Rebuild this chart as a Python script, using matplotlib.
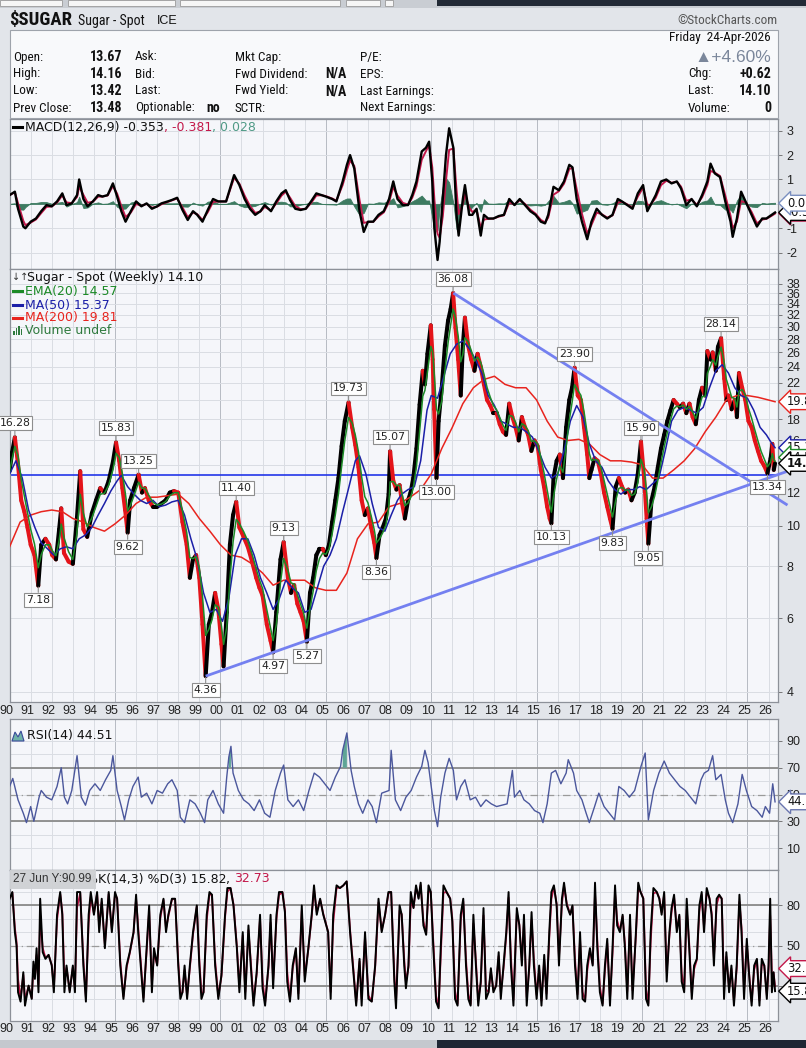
import numpy as np
import pandas as pd
import matplotlib
matplotlib.use('Agg')
import matplotlib.pyplot as plt
from matplotlib.collections import LineCollection
from matplotlib.patches import Rectangle, Polygon
from matplotlib.ticker import NullLocator, FixedLocator, FixedFormatter
from matplotlib.text import Annotation
from matplotlib import font_manager as fm
import matplotlib.transforms as mtrans

# ---------------- DATA ----------------
price_pts = [
    (1990.00, 13.5), (1990.12, 15.0), (1990.25, 16.28), (1990.40, 14.0), (1990.55, 11.5), (1990.70, 10.8),
    (1990.85, 9.9), (1991.00, 9.0), (1991.18, 8.5), (1991.36, 7.18), (1991.50, 9.0), (1991.70, 9.3),
    (1991.88, 9.0), (1992.02, 8.5), (1992.20, 8.3), (1992.35, 9.8), (1992.45, 11.0), (1992.58, 8.6),
    (1992.80, 8.2), (1993.00, 8.1), (1993.18, 10.2), (1993.35, 13.5), (1993.50, 9.8), (1993.68, 9.4),
    (1993.90, 10.7), (1994.10, 11.5), (1994.30, 12.3), (1994.50, 12.0), (1994.70, 12.8), (1994.90, 14.2),
    (1995.05, 15.83), (1995.20, 14.3), (1995.35, 12.3), (1995.48, 10.9), (1995.60, 9.62), (1995.72, 11.5),
    (1995.90, 12.3), (1996.12, 13.25), (1996.28, 12.0), (1996.42, 12.3), (1996.60, 11.5), (1996.80, 11.1),
    (1997.00, 11.1), (1997.20, 11.3), (1997.40, 11.5), (1997.60, 12.0), (1997.80, 12.1), (1998.00, 12.0),
    (1998.20, 10.2), (1998.40, 9.0), (1998.55, 7.5), (1998.70, 8.3), (1998.85, 8.5), (1999.00, 7.5),
    (1999.15, 5.8), (1999.30, 4.36), (1999.45, 5.8), (1999.60, 6.2), (1999.75, 6.9), (1999.90, 6.3),
    (2000.05, 5.2), (2000.15, 4.6), (2000.30, 6.2), (2000.45, 9.0), (2000.60, 10.6), (2000.75, 11.40),
    (2000.90, 9.9), (2001.10, 9.4), (2001.30, 8.9), (2001.50, 8.2), (2001.70, 7.5), (2001.85, 7.1),
    (2002.00, 6.8), (2002.20, 5.8), (2002.38, 5.3), (2002.50, 4.97), (2002.65, 6.2), (2002.85, 8.3),
    (2003.00, 9.13), (2003.20, 7.5), (2003.35, 6.9), (2003.50, 7.2), (2003.65, 6.5), (2003.80, 6.2),
    (2003.95, 5.9), (2004.10, 5.27), (2004.25, 6.9), (2004.40, 7.5), (2004.55, 8.5), (2004.70, 8.8),
    (2004.85, 8.8), (2005.00, 8.5), (2005.15, 9.0), (2005.30, 10.2), (2005.45, 11.5), (2005.60, 13.0),
    (2005.75, 15.5), (2005.90, 17.8), (2006.08, 19.73), (2006.25, 17.2), (2006.40, 15.6), (2006.55, 13.8),
    (2006.70, 11.5), (2006.85, 10.6), (2007.00, 11.0), (2007.15, 9.9), (2007.30, 9.1), (2007.40, 8.36),
    (2007.55, 9.5), (2007.70, 9.9), (2007.85, 10.4), (2007.98, 11.9), (2008.05, 15.07), (2008.20, 12.8),
    (2008.35, 12.2), (2008.50, 12.5), (2008.62, 11.3), (2008.75, 10.4), (2008.90, 11.5), (2009.02, 12.0),
    (2009.15, 13.0), (2009.30, 15.3), (2009.45, 19.5), (2009.60, 23.5), (2009.70, 21.8), (2009.82, 25.8),
    (2009.98, 30.2), (2010.07, 25.0), (2010.14, 19.0), (2010.25, 13.00), (2010.35, 17.8), (2010.50, 21.4),
    (2010.65, 27.0), (2010.80, 31.0), (2010.92, 33.0), (2011.04, 36.08), (2011.15, 29.8), (2011.28, 25.0),
    (2011.40, 20.5), (2011.50, 27.0), (2011.60, 31.5), (2011.75, 27.0), (2011.90, 25.0), (2012.05, 23.5),
    (2012.20, 25.8), (2012.35, 24.0), (2012.50, 21.8), (2012.65, 20.0), (2012.80, 19.4), (2012.95, 18.6),
    (2013.10, 18.6), (2013.25, 17.5), (2013.40, 16.8), (2013.55, 16.5), (2013.70, 19.6), (2013.85, 18.2),
    (2014.00, 17.2), (2014.15, 16.0), (2014.30, 18.2), (2014.45, 17.2), (2014.60, 16.5), (2014.75, 15.1),
    (2014.90, 16.0), (2015.05, 15.5), (2015.20, 13.6), (2015.35, 12.4), (2015.50, 11.1), (2015.62, 10.4),
    (2015.70, 10.13), (2015.80, 13.0), (2015.95, 14.3), (2016.10, 14.8), (2016.25, 13.0), (2016.40, 17.2),
    (2016.55, 20.0), (2016.68, 21.4), (2016.80, 23.90), (2016.95, 20.5), (2017.10, 20.0), (2017.25, 17.2),
    (2017.40, 14.8), (2017.50, 13.0), (2017.60, 13.6), (2017.75, 14.5), (2017.90, 14.3), (2018.05, 13.3),
    (2018.20, 12.0), (2018.35, 11.1), (2018.48, 10.4), (2018.60, 9.83), (2018.75, 12.4), (2018.90, 13.0),
    (2019.05, 12.4), (2019.20, 12.0), (2019.35, 12.2), (2019.50, 11.5), (2019.65, 12.0), (2019.80, 13.3),
    (2019.95, 15.90), (2020.10, 13.0), (2020.22, 10.4), (2020.30, 9.05), (2020.45, 11.5), (2020.60, 12.4),
    (2020.75, 13.8), (2020.90, 15.3), (2021.05, 16.5), (2021.20, 17.8), (2021.35, 18.9), (2021.50, 20.0),
    (2021.65, 19.6), (2021.80, 19.2), (2021.95, 19.6), (2022.10, 18.6), (2022.25, 19.6), (2022.40, 18.2),
    (2022.55, 17.5), (2022.70, 20.0), (2022.85, 21.4), (2023.00, 20.5), (2023.10, 26.2), (2023.25, 25.0),
    (2023.35, 26.0), (2023.50, 23.5), (2023.60, 26.8), (2023.75, 28.14), (2023.90, 22.5), (2024.00, 20.0),
    (2024.10, 20.5), (2024.25, 19.0), (2024.40, 20.0), (2024.50, 18.2), (2024.60, 23.2), (2024.75, 21.4),
    (2024.90, 20.0), (2025.05, 17.8), (2025.20, 17.2), (2025.35, 16.0), (2025.50, 15.1), (2025.65, 14.3),
    (2025.80, 13.9), (2025.95, 13.34), (2026.10, 14.5), (2026.18, 15.7), (2026.25, 13.6), (2026.31, 14.10),
]

ma50_pts = [
    (1990.0, 13.3), (1990.3, 14.3), (1990.6, 13.0), (1990.9, 10.9), (1991.2, 9.9), (1991.5, 9.1), (1991.8, 8.8),
    (1992.1, 8.5), (1992.4, 8.8), (1992.7, 8.9), (1993.0, 8.8), (1993.3, 9.3), (1993.6, 9.5), (1993.9, 9.9),
    (1994.2, 10.6), (1994.5, 11.3), (1994.8, 12.1), (1995.1, 12.8), (1995.3, 13.2), (1995.6, 12.4), (1995.9, 11.9),
    (1996.2, 11.5), (1996.5, 11.3), (1996.8, 11.5), (1997.1, 11.1), (1997.4, 11.2), (1997.7, 11.4), (1998.0, 11.5),
    (1998.3, 10.6), (1998.6, 9.3), (1998.9, 8.3), (1999.2, 6.9), (1999.5, 6.2), (1999.8, 6.3), (2000.1, 5.9),
    (2000.4, 6.7), (2000.7, 8.5), (2001.0, 9.3), (2001.3, 9.3), (2001.6, 8.5), (2001.9, 7.5), (2002.2, 6.9),
    (2002.5, 6.3), (2002.8, 6.7), (2003.1, 7.4), (2003.4, 7.1), (2003.7, 6.9), (2004.0, 6.2), (2004.3, 6.3),
    (2004.6, 7.1), (2004.9, 8.0), (2005.2, 8.5), (2005.5, 9.3), (2005.8, 10.8), (2006.1, 12.4), (2006.4, 14.3),
    (2006.6, 14.7), (2006.9, 13.3), (2007.2, 11.3), (2007.5, 9.9), (2007.8, 9.7), (2008.1, 10.6), (2008.4, 11.5),
    (2008.6, 11.9), (2008.9, 12.2), (2009.2, 12.4), (2009.5, 14.3), (2009.8, 18.9), (2010.0, 20.5), (2010.3, 20.2),
    (2010.6, 22.8), (2010.9, 25.8), (2011.2, 27.2), (2011.5, 27.7), (2011.8, 26.6), (2012.1, 25.0), (2012.4, 23.2),
    (2012.7, 20.5), (2013.0, 19.4), (2013.3, 17.8), (2013.6, 17.5), (2013.9, 17.2), (2014.2, 17.2), (2014.5, 16.8),
    (2014.8, 16.3), (2015.1, 15.1), (2015.4, 13.8), (2015.7, 13.0), (2016.0, 13.3), (2016.3, 15.1), (2016.6, 17.8),
    (2016.9, 19.4), (2017.2, 18.2), (2017.5, 15.7), (2017.8, 14.3), (2018.1, 13.8), (2018.4, 12.8), (2018.7, 12.2),
    (2019.0, 11.9), (2019.3, 12.2), (2019.6, 12.2), (2019.9, 12.4), (2020.2, 12.2), (2020.5, 12.6), (2020.8, 13.0),
    (2021.1, 15.1), (2021.4, 17.8), (2021.7, 18.9), (2022.0, 19.2), (2022.3, 18.9), (2022.6, 18.6), (2022.9, 19.2),
    (2023.2, 21.4), (2023.5, 23.5), (2023.8, 24.3), (2024.1, 23.2), (2024.4, 21.4), (2024.7, 20.5), (2025.0, 20.2),
    (2025.3, 18.9), (2025.6, 17.2), (2025.9, 16.5), (2026.1, 15.9), (2026.31, 15.37),
]

ma200_pts = [
    (1990.0, 8.9), (1990.5, 10.2), (1991.0, 10.6), (1991.5, 10.8), (1992.0, 10.9), (1992.5, 10.8), (1993.0, 10.4),
    (1993.5, 10.2), (1994.0, 9.9), (1994.5, 9.7), (1995.0, 10.1), (1995.5, 10.6), (1996.0, 11.3), (1996.5, 11.7),
    (1997.0, 11.7), (1997.5, 11.8), (1998.0, 11.9), (1998.5, 11.3), (1999.0, 10.4), (1999.5, 9.7), (2000.0, 9.0),
    (2000.5, 8.5), (2001.0, 8.4), (2001.5, 8.1), (2002.0, 7.7), (2002.5, 7.2), (2003.0, 7.4), (2003.5, 7.4),
    (2004.0, 7.4), (2004.5, 7.1), (2005.0, 7.0), (2005.5, 7.0), (2006.0, 7.7), (2006.5, 9.3), (2007.0, 10.1),
    (2007.5, 10.2), (2008.0, 11.1), (2008.5, 11.3), (2009.0, 11.7), (2009.5, 12.2), (2010.0, 13.3), (2010.5, 15.3),
    (2011.0, 17.2), (2011.5, 19.6), (2012.0, 21.4), (2012.5, 22.4), (2013.0, 22.8), (2013.5, 21.8), (2014.0, 21.4),
    (2014.5, 21.4), (2015.0, 20.0), (2015.5, 17.8), (2016.0, 16.3), (2016.5, 16.0), (2017.0, 16.1), (2017.5, 15.7),
    (2018.0, 14.8), (2018.5, 14.3), (2019.0, 14.3), (2019.5, 14.2), (2020.0, 14.0), (2020.5, 13.0), (2021.0, 13.0),
    (2021.5, 13.6), (2022.0, 14.3), (2022.5, 15.3), (2023.0, 16.8), (2023.5, 18.2), (2024.0, 20.0), (2024.5, 20.5),
    (2025.0, 20.5), (2025.5, 20.3), (2026.0, 20.0), (2026.31, 19.81),
]

macd_pts = [
    (1990.00, 0.36), (1990.25, 0.50), (1990.40, -0.20), (1990.65, -0.93), (1990.75, -1.00), (1991.00, -0.73),
    (1991.25, -0.60), (1991.50, -0.30), (1991.75, -0.05), (1992.00, -0.10), (1992.25, 0.10), (1992.50, 0.43),
    (1992.70, -0.05), (1992.95, 0.02), (1993.20, 0.36), (1993.30, 1.00), (1993.50, 0.20), (1993.70, -0.10),
    (1993.95, 0.10), (1994.20, 0.36), (1994.40, 0.30), (1994.65, 0.36), (1994.90, 0.84), (1995.10, 0.30),
    (1995.30, -0.30), (1995.50, -0.73), (1995.75, -0.30), (1996.00, 0.10), (1996.25, -0.10), (1996.50, 0.02),
    (1996.75, -0.20), (1997.00, -0.10), (1997.20, 0.02), (1997.50, 0.10), (1997.70, 0.16), (1997.95, 0.25),
    (1998.20, -0.25), (1998.45, -0.66), (1998.70, -0.30), (1998.90, -0.45), (1999.15, -0.73), (1999.40, -0.25),
    (1999.65, 0.20), (1999.90, 0.10), (2000.27, 0.10), (2000.65, 1.18), (2000.90, 0.77), (2001.15, 0.20),
    (2001.40, -0.20), (2001.65, -0.45), (2001.90, -0.30), (2002.10, -0.05), (2002.40, -0.30), (2002.65, 0.10),
    (2002.90, 0.43), (2003.10, 0.56), (2003.30, 0.16), (2003.55, -0.20), (2003.80, -0.25), (2004.05, -0.20),
    (2004.30, 0.10), (2004.55, 0.43), (2004.80, 0.36), (2005.00, 0.30), (2005.30, 0.20), (2005.50, 0.10),
    (2005.80, 0.92), (2006.00, 1.60), (2006.15, 2.00), (2006.35, 1.45), (2006.60, -0.30), (2006.80, -1.15),
    (2007.00, -0.73), (2007.25, -0.73), (2007.50, -0.45), (2007.75, -0.30), (2008.00, 0.20), (2008.20, 0.92),
    (2008.40, 0.20), (2008.65, -0.05), (2008.90, -0.05), (2009.10, 0.36), (2009.30, 0.92), (2009.55, 2.15),
    (2009.75, 2.30), (2009.90, 2.55), (2010.05, 0.92), (2010.15, -1.00), (2010.30, -2.30), (2010.40, -1.55),
    (2010.55, 0.20), (2010.70, 2.00), (2010.85, 3.10), (2011.05, 2.30), (2011.20, -0.45), (2011.30, -1.30),
    (2011.50, 0.20), (2011.60, 0.77), (2011.80, -0.45), (2011.95, -0.45), (2012.15, -0.20), (2012.35, -1.30),
    (2012.50, -0.45), (2012.70, -0.60), (2012.95, -0.60), (2013.20, -0.50), (2013.45, -0.45), (2013.70, 0.20),
    (2013.95, -0.05), (2014.20, 0.20), (2014.45, -0.05), (2014.70, -0.30), (2014.95, -0.45), (2015.20, -0.73),
    (2015.40, -0.80), (2015.55, -0.45), (2015.80, 0.70), (2016.05, 0.56), (2016.30, 0.92), (2016.55, 1.60),
    (2016.70, 1.50), (2016.90, 0.20), (2017.15, -0.73), (2017.40, -1.45), (2017.60, -0.73), (2017.85, -0.20),
    (2018.10, -0.45), (2018.35, -0.60), (2018.60, -0.45), (2018.85, 0.20), (2019.05, 0.10), (2019.30, -0.05),
    (2019.55, -0.20), (2019.80, 0.43), (2020.05, 0.77), (2020.25, -0.30), (2020.40, -0.05), (2020.65, 0.36),
    (2020.90, 0.92), (2021.15, 1.00), (2021.40, 0.84), (2021.65, 0.92), (2021.85, 0.63), (2022.10, -0.05),
    (2022.35, 0.20), (2022.60, -0.10), (2022.85, 0.36), (2023.10, 0.92), (2023.25, 1.65), (2023.45, 1.25),
    (2023.70, 1.10), (2023.95, 0.10), (2024.20, -0.73), (2024.30, -1.35), (2024.50, -0.60), (2024.70, 0.50),
    (2024.95, 0.02), (2025.20, -0.45), (2025.45, -0.93), (2025.70, -0.60), (2025.90, -0.60), (2026.15, -0.45),
    (2026.31, -0.353),
]

rsi_pts = [
    (1990.0, 56), (1990.15, 62), (1990.4, 46), (1990.65, 36), (1990.8, 29), (1991.0, 41), (1991.15, 30), (1991.4, 48),
    (1991.5, 53), (1991.75, 48), (1992.0, 46), (1992.25, 56), (1992.45, 70), (1992.6, 48), (1992.75, 43), (1992.95, 53),
    (1993.2, 79), (1993.4, 48), (1993.6, 42), (1993.8, 53), (1994.05, 58), (1994.3, 53), (1994.55, 61), (1994.8, 68),
    (1994.9, 79), (1995.1, 53), (1995.3, 41), (1995.45, 31), (1995.65, 46), (1995.85, 56), (1996.1, 63), (1996.25, 48),
    (1996.5, 51), (1996.75, 43), (1997.0, 53), (1997.25, 51), (1997.5, 58), (1997.7, 61), (1997.95, 53), (1998.1, 33),
    (1998.3, 29), (1998.55, 46), (1998.8, 43), (1999.05, 36), (1999.25, 29), (1999.4, 46), (1999.65, 53), (1999.9, 43),
    (2000.15, 36), (2000.3, 63), (2000.4, 78), (2000.5, 86), (2000.6, 66), (2000.85, 53), (2001.1, 46), (2001.35, 43),
    (2001.6, 38), (2001.85, 46), (2002.1, 36), (2002.35, 33), (2002.6, 53), (2002.85, 66), (2003.0, 72), (2003.2, 46),
    (2003.45, 41), (2003.7, 46), (2003.95, 38), (2004.2, 53), (2004.45, 66), (2004.7, 63), (2004.95, 58), (2005.2, 53),
    (2005.45, 63), (2005.7, 71), (2005.8, 83), (2006.0, 96), (2006.2, 68), (2006.35, 56), (2006.55, 43), (2006.75, 36),
    (2007.0, 46), (2007.2, 41), (2007.4, 29), (2007.65, 51), (2008.0, 53), (2008.1, 83), (2008.3, 46), (2008.55, 38),
    (2008.8, 48), (2009.05, 53), (2009.3, 63), (2009.55, 71), (2009.7, 83), (2009.85, 74), (2010.0, 56), (2010.15, 38),
    (2010.3, 26), (2010.45, 48), (2010.65, 66), (2010.85, 77), (2011.05, 68), (2011.2, 46), (2011.4, 56), (2011.6, 61),
    (2011.85, 46), (2012.1, 48), (2012.35, 41), (2012.6, 46), (2012.85, 43), (2013.1, 41), (2013.35, 42), (2013.6, 43),
    (2013.85, 68), (2013.95, 48), (2014.2, 53), (2014.4, 46), (2014.65, 43), (2014.9, 38), (2015.15, 36), (2015.3, 29),
    (2015.5, 43), (2015.7, 66), (2015.9, 68), (2016.15, 58), (2016.4, 66), (2016.5, 76), (2016.75, 66), (2016.9, 53),
    (2017.15, 46), (2017.35, 36), (2017.5, 29), (2017.75, 41), (2017.95, 51), (2018.2, 41), (2018.45, 36), (2018.7, 31),
    (2018.9, 56), (2019.15, 53), (2019.4, 48), (2019.65, 53), (2019.95, 71), (2020.15, 81), (2020.3, 31), (2020.55, 53),
    (2020.8, 66), (2021.05, 75), (2021.3, 66), (2021.55, 61), (2021.8, 56), (2022.05, 53), (2022.3, 48), (2022.55, 43),
    (2022.8, 61), (2022.95, 66), (2023.15, 68), (2023.35, 79), (2023.5, 61), (2023.75, 65), (2023.95, 46), (2024.1, 36),
    (2024.3, 29), (2024.55, 43), (2024.75, 65), (2024.95, 53), (2025.2, 41), (2025.45, 38), (2025.7, 33), (2025.85, 41),
    (2026.05, 36), (2026.2, 58), (2026.31, 44.51),
]

stoch_pts = [
    (1990.0, 85), (1990.13, 90), (1990.25, 60), (1990.33, 50), (1990.4, 15), (1990.52, 8), (1990.65, 30), (1990.73, 5),
    (1990.9, 20), (1991.05, 10), (1991.13, 38), (1991.2, 25), (1991.28, 48), (1991.37, 15), (1991.45, 85), (1991.57, 45),
    (1991.7, 40), (1991.85, 43), (1992.0, 35), (1992.1, 15), (1992.25, 73), (1992.4, 90), (1992.5, 73), (1992.6, 15),
    (1992.7, 35), (1992.85, 15), (1993.0, 35), (1993.1, 15), (1993.2, 90), (1993.35, 90), (1993.5, 35), (1993.62, 8),
    (1993.75, 73), (1993.85, 90), (1994.0, 73), (1994.15, 90), (1994.25, 60), (1994.37, 85), (1994.52, 48), (1994.7, 90),
    (1994.85, 60), (1995.0, 90), (1995.1, 85), (1995.25, 35), (1995.4, 10), (1995.55, 35), (1995.7, 45), (1995.88, 60),
    (1996.0, 88), (1996.1, 60), (1996.22, 35), (1996.35, 8), (1996.5, 48), (1996.62, 80), (1996.75, 15), (1996.85, 48),
    (1997.0, 35), (1997.15, 73), (1997.3, 85), (1997.42, 60), (1997.53, 73), (1997.7, 85), (1997.85, 85), (1998.0, 35),
    (1998.1, 10), (1998.2, 15), (1998.3, 35), (1998.42, 10), (1998.55, 35), (1998.7, 60), (1998.88, 80), (1999.0, 35),
    (1999.1, 10), (1999.2, 15), (1999.35, 73), (1999.48, 90), (1999.6, 88), (1999.75, 35), (1999.9, 10), (2000.05, 28),
    (2000.22, 73), (2000.33, 93), (2000.48, 93), (2000.62, 80), (2000.78, 48), (2000.9, 15), (2001.06, 60), (2001.18, 10),
    (2001.33, 65), (2001.44, 35), (2001.57, 5), (2001.72, 30), (2001.88, 73), (2002.0, 18), (2002.12, 5), (2002.28, 35),
    (2002.38, 73), (2002.5, 18), (2002.66, 73), (2002.78, 90), (2002.94, 90), (2003.06, 75), (2003.17, 23), (2003.3, 8),
    (2003.43, 35), (2003.58, 48), (2003.7, 10), (2003.86, 80), (2004.0, 23), (2004.17, 48), (2004.33, 73), (2004.44, 95),
    (2004.57, 73), (2004.73, 85), (2004.88, 73), (2005.11, 60), (2005.23, 10), (2005.35, 73), (2005.51, 95), (2005.67, 93),
    (2005.83, 95), (2005.99, 98), (2006.15, 60), (2006.31, 30), (2006.44, 5), (2006.6, 40), (2006.7, 5), (2006.86, 60),
    (2007.02, 10), (2007.18, 8), (2007.34, 35), (2007.5, 85), (2007.65, 60), (2007.81, 73), (2007.97, 90), (2008.1, 90),
    (2008.25, 23), (2008.33, 3), (2008.5, 80), (2008.6, 73), (2008.72, 35), (2008.8, 18), (2008.92, 35), (2009.03, 90),
    (2009.16, 78), (2009.28, 95), (2009.4, 85), (2009.5, 97), (2009.63, 65), (2009.76, 58), (2009.87, 95), (2009.98, 90),
    (2010.1, 48), (2010.23, 8), (2010.35, 3), (2010.45, 48), (2010.58, 95), (2010.73, 90), (2010.9, 85), (2011.0, 68),
    (2011.13, 10), (2011.25, 5), (2011.4, 73), (2011.52, 85), (2011.65, 35), (2011.76, 10), (2011.87, 5), (2012.0, 73),
    (2012.12, 35), (2012.23, 5), (2012.35, 23), (2012.48, 78), (2012.6, 10), (2012.72, 15), (2012.83, 33), (2012.95, 15),
    (2013.08, 20), (2013.2, 45), (2013.3, 10), (2013.43, 35), (2013.56, 60), (2013.67, 90), (2013.78, 35), (2013.9, 5),
    (2014.06, 78), (2014.18, 65), (2014.3, 35), (2014.4, 73), (2014.53, 5), (2014.65, 35), (2014.76, 75), (2014.87, 35),
    (2015.0, 10), (2015.12, 35), (2015.23, 5), (2015.36, 43), (2015.47, 10), (2015.6, 60), (2015.7, 90), (2015.82, 95),
    (2015.95, 80), (2016.06, 35), (2016.2, 85), (2016.3, 97), (2016.43, 80), (2016.59, 73), (2016.7, 80), (2016.82, 35),
    (2016.94, 10), (2017.06, 60), (2017.18, 10), (2017.3, 8), (2017.4, 35), (2017.53, 48), (2017.66, 35), (2017.77, 97),
    (2017.88, 48), (2018.0, 15), (2018.13, 5), (2018.24, 35), (2018.35, 55), (2018.48, 5), (2018.6, 48), (2018.72, 95),
    (2018.82, 65), (2018.95, 60), (2019.08, 73), (2019.19, 48), (2019.3, 10), (2019.43, 73), (2019.55, 10), (2019.71, 60),
    (2019.82, 97), (2019.93, 90), (2020.06, 85), (2020.19, 10), (2020.3, 5), (2020.41, 60), (2020.54, 93), (2020.7, 90),
    (2020.82, 85), (2020.93, 73), (2021.05, 90), (2021.17, 23), (2021.3, 60), (2021.4, 78), (2021.52, 88), (2021.65, 60),
    (2021.77, 73), (2021.88, 23), (2022.0, 15), (2022.12, 85), (2022.24, 48), (2022.36, 10), (2022.47, 35), (2022.6, 40),
    (2022.72, 80), (2022.83, 90), (2022.94, 60), (2023.07, 93), (2023.2, 85), (2023.3, 73), (2023.41, 35), (2023.54, 85),
    (2023.66, 88), (2023.78, 85), (2023.89, 10), (2024.0, 45), (2024.13, 15), (2024.24, 35), (2024.36, 5), (2024.49, 35),
    (2024.62, 88), (2024.72, 60), (2024.84, 10), (2024.97, 55), (2025.1, 23), (2025.2, 5), (2025.32, 35), (2025.45, 40),
    (2025.57, 5), (2025.68, 40), (2025.8, 35), (2025.92, 10), (2026.0, 35), (2026.08, 85), (2026.16, 15), (2026.24, 30),
    (2026.31, 15.82),
]

# labelled extremes on the price chart: (date, value, 'up' above / 'dn' below)
extreme_labels = [
    (1990.25, 16.28, 'up'), (1991.36, 7.18, 'dn'), (1995.05, 15.83, 'up'), (1996.12, 13.25, 'up'),
    (1995.60, 9.62, 'dn'), (2000.75, 11.40, 'up'), (1999.30, 4.36, 'dn'), (2002.50, 4.97, 'dn'),
    (2003.00, 9.13, 'up'), (2004.10, 5.27, 'dn'), (2006.08, 19.73, 'up'), (2007.40, 8.36, 'dn'),
    (2008.05, 15.07, 'up'), (2010.25, 13.00, 'dn'), (2011.04, 36.08, 'up'), (2015.70, 10.13, 'dn'),
    (2016.80, 23.90, 'up'), (2018.60, 9.83, 'dn'), (2019.95, 15.90, 'up'), (2020.30, 9.05, 'dn'),
    (2023.75, 28.14, 'up'), (2025.95, 13.34, 'dn'),
]

support_level = 13.25
trend_upper = [(2011.05, 36.08), (2026.90, 11.2)]
trend_lower = [(1999.30, 4.36), (2026.90, 13.5)]

last_vals = dict(close=14.10, ema20=14.57, ma50=15.37, ma200=19.81, macd=-0.353, signal=-0.381, hist=0.028,
                 rsi=44.51, k=15.82, d=32.73)

year_labels = list(range(1990, 2027))
price_ticks = [4, 6, 8, 10, 12, 14, 16, 18, 20, 22, 24, 26, 28, 30, 32, 34, 36, 38]
price_tick_text = ['4', '6', '8', '10', '12', '', '16', '18', '', '22', '24', '26', '28', '30', '32', '34', '36', '38']

# ---------------- helpers ----------------
W, H = 806, 1048
avail = {f.name for f in fm.fontManager.ttflist}


def pick(*names):
    for n in names:
        if n in avail:
            return n
    return 'DejaVu Sans'


NARROW = pick('Liberation Sans Narrow', 'Roboto Condensed', 'Liberation Sans')
SANS = pick('Liberation Sans', 'DejaVu Sans')
VERD = 'DejaVu Sans'


def unzip(pts):
    a = np.array(pts, dtype=float)
    return a[:, 0], a[:, 1]


def to_dt(years):
    return pd.Timestamp('1990-01-01') + pd.to_timedelta((np.asarray(years) - 1990.0) * 365.25, unit='D')


def fx(x):
    return x / W


def fy(y):
    return 1 - y / H


p_d, p_v = unzip(price_pts)
m50_d, m50_v = unzip(ma50_pts)
m200_d, m200_v = unzip(ma200_pts)
mc_d, mc_v = unzip(macd_pts)
r_d, r_v = unzip(rsi_pts)
k_d, k_v = unzip(stoch_pts)

ema20 = pd.Series(p_v).ewm(halflife=pd.Timedelta(weeks=6.93), times=to_dt(p_d)).mean().values
sig = pd.Series(mc_v).ewm(halflife=pd.Timedelta(weeks=6.0), times=to_dt(mc_d)).mean().values
hist = mc_v - sig
d_v = pd.Series(k_v).ewm(halflife=pd.Timedelta(weeks=2.0), times=to_dt(k_d)).mean().values

# ---------------- figure ----------------
BG = '#e2e5ea'
PLOT_BG = '#f5f6fa'
GRID = '#dadde3'
fig = plt.figure(figsize=(W / 100, H / 100), dpi=100, facecolor=BG)

# browser strips
fig.add_artist(Rectangle((0, fy(8)), 1, 8 / H, transform=fig.transFigure, fc='#c9cdd3', ec='none'))
for a, b in [(0, 62), (68, 175), (180, 340), (346, 380), (385, 393)]:
    fig.add_artist(Rectangle((fx(a), fy(6)), (b - a) / W, 6 / H, transform=fig.transFigure,
                             fc='#f6f6f6', ec='#9a9a9a', lw=0.6))
fig.add_artist(Rectangle((fx(437), fy(6)), (W - 437) / W, 6 / H, transform=fig.transFigure, fc='#222a36', ec='none'))
fig.add_artist(Rectangle((0, 0), fx(437), 8 / H, transform=fig.transFigure, fc='#c4c8ce', ec='none'))
fig.add_artist(Rectangle((fx(437), 0), (W - 437) / W, 8 / H, transform=fig.transFigure, fc='#1e2633', ec='none'))

# header
fig.text(fx(9), fy(20), '$SUGAR', fontsize=13.5, fontweight='bold', family=NARROW, va='center', ha='left', color='#111')
fig.text(fx(78), fy(21), 'Sugar - Spot', fontsize=10, family=NARROW, va='center', ha='left', color='#111')
fig.text(fx(157), fy(21), 'ICE', fontsize=9, family=SANS, va='center', ha='left', color='#111')
fig.text(fx(777), fy(20), '\u00a9StockCharts.com', fontsize=9.5, family=NARROW, va='center', ha='right', color='#555')

fig.add_artist(Rectangle((fx(10), fy(118)), (778 - 10) / W, (118 - 30) / H, transform=fig.transFigure,
                         fc='#f8f9fb', ec='#9ea3ab', lw=0.8))
IF = dict(fontsize=9.5, family=NARROW, va='center', color='#111')
IB = dict(fontsize=10, family=NARROW, va='center', color='#111', fontweight='bold')
fig.text(fx(771), fy(38), 'Friday  24-Apr-2026', ha='right', **IF)
rows = [57, 74, 91, 108]
for y, lab, val in zip(rows, ['Open:', 'High:', 'Low:', 'Prev Close:'], ['13.67', '14.16', '13.42', '13.48']):
    fig.text(fx(13), fy(y), lab, ha='left', **IF)
    fig.text(fx(122), fy(y), val, ha='right', **IB)
for y, lab in zip(rows, ['Ask:', 'Bid:', 'Last:', 'Optionable:']):
    fig.text(fx(135), fy(y), lab, ha='left', **IF)
fig.text(fx(206), fy(108), 'no', ha='left', **IB)
for y, lab in zip(rows, ['Mkt Cap:', 'Fwd Dividend:', 'Fwd Yield:', 'SCTR:']):
    fig.text(fx(235), fy(y), lab, ha='left', **IF)
fig.text(fx(325), fy(74), 'N/A', ha='left', **IB)
fig.text(fx(325), fy(91), 'N/A', ha='left', **IB)
for y, lab in zip(rows, ['P/E:', 'EPS:', 'Last Earnings:', 'Next Earnings:']):
    fig.text(fx(360), fy(y), lab, ha='left', **IF)
fig.text(fx(771), fy(57), '\u25b2+4.60%', ha='right', fontsize=12.5, family=[SANS, 'DejaVu Sans'], va='center',
         color='#7b879b')
for y, lab, val in zip(rows[1:], ['Chg:', 'Last:', 'Volume:'], ['+0.62', '14.10', '0']):
    fig.text(fx(688), fy(y), lab, ha='left', **IF)
    fig.text(fx(771), fy(y), val, ha='right', **IB)

# ---------------- axes ----------------
L, R = 9.6, 778.0
XMIN, XMAX = 1990.0, 2026.45


def rect(top, bot):
    return [L / W, 1 - bot / H, (R - L) / W, (bot - top) / H]


ax_m = fig.add_axes(rect(119, 269))
ax_p = fig.add_axes(rect(269, 702))
ax_r = fig.add_axes(rect(719, 870))
ax_s = fig.add_axes(rect(870, 1021))


def style(ax, ticks, labels, ylim, log=False, hgrid=None):
    ax.set_facecolor(PLOT_BG)
    if log:
        ax.set_yscale('log')
    ax.set_xlim(XMIN, XMAX)
    ax.set_ylim(*ylim)
    for yr in range(1991, 2027):
        ax.axvline(yr, color='#b7bbc3' if yr % 5 == 0 else GRID, lw=0.7, zorder=0)
    for yv in (hgrid if hgrid is not None else ticks):
        ax.axhline(yv, color=GRID, lw=0.7, zorder=0)
    ax.yaxis.tick_right()
    ax.yaxis.set_major_locator(FixedLocator(ticks))
    ax.yaxis.set_major_formatter(FixedFormatter(labels))
    ax.yaxis.set_minor_locator(NullLocator())
    ax.set_xticks([])
    ax.tick_params(axis='y', length=3, width=0.6, colors='#666', labelcolor='#222', labelsize=9, pad=3)
    for t in ax.get_yticklabels():
        t.set_family(SANS)
    for s in ax.spines.values():
        s.set_color('#8d9199')
        s.set_linewidth(0.9)


style(ax_m, [-2, -1, 1, 2, 3], ['-2', '-1', '1', '2', '3'], (-2.67, 3.48), hgrid=[-2, -1, 0, 1, 2, 3])
style(ax_p, price_ticks, price_tick_text, (3.78, 41.2), log=True)
style(ax_r, [10, 30, 50, 70, 90], ['10', '30', '50', '70', '90'], (-6.4, 106.4), hgrid=list(range(10, 100, 10)))
style(ax_s, [20, 50, 80], ['', '50', '80'], (-6.5, 106.5), hgrid=list(range(10, 100, 10)))

# ---------- MACD ----------
ax_m.fill_between(mc_d, 0, hist, color='#3d7b61', lw=0.6, zorder=2)
ax_m.plot(mc_d, sig, color='#c3184a', lw=1.4, zorder=3)
ax_m.plot(mc_d, mc_v, color='#000000', lw=1.7, zorder=4)

# ---------- price ----------
ax_p.axhline(support_level, color='#2436e8', lw=1.2, zorder=2)
pts = np.column_stack([p_d, p_v])
segs = np.stack([pts[:-1], pts[1:]], axis=1)
cols = ['#000000' if b >= a else '#e4141a' for a, b in zip(p_v[:-1], p_v[1:])]
ax_p.add_collection(LineCollection(segs, colors=cols, linewidths=2.9, zorder=3, capstyle='round'))
ax_p.plot(m200_d, m200_v, color='#e8241e', lw=1.1, zorder=4)
ax_p.plot(m50_d, m50_v, color='#1b1fa8', lw=1.1, zorder=4)
ax_p.plot(p_d, ema20, color='#1c8a27', lw=1.1, zorder=4)
for tl in (trend_upper, trend_lower):
    td, tv = unzip(tl)
    ax_p.plot(td, tv, color='#7480f0', lw=2.0, zorder=5, clip_on=False, solid_capstyle='butt')

for d, v, pos in extreme_labels:
    off = 14 if pos == 'up' else -14
    ax_p.annotate(f'{v:.2f}', xy=(d, v), xytext=(0, off), textcoords='offset pixels',
                  ha='center', va='center', fontsize=7.8, family=VERD, color='#222', zorder=8,
                  annotation_clip=False,
                  bbox=dict(boxstyle='square,pad=0.18', fc='#ffffff', ec='#8e8e8e', lw=0.8),
                  arrowprops=dict(arrowstyle='-', color='#8e8e8e', lw=0.8, shrinkA=0, shrinkB=1))


# ---------- tags on right axis ----------
def tag(ax, yval, text, ec, bold=False):
    trans = mtrans.blended_transform_factory(ax.transAxes, ax.transData)
    ax.annotate(text, xy=(1.0, yval), xycoords=trans, xytext=(9, 0), textcoords='offset pixels',
                ha='left', va='center', fontsize=8.3, family=VERD, color='#111',
                fontweight='bold' if bold else 'normal', annotation_clip=False, zorder=20,
                bbox=dict(boxstyle='larrow,pad=0.12', fc='#ffffff', ec=ec, lw=1.0))


tag(ax_p, last_vals['ma200'], f"{last_vals['ma200']:.2f}", '#e8241e')
tag(ax_p, last_vals['ma50'], f"{last_vals['ma50']:.2f}", '#1b1fa8')
tag(ax_p, last_vals['ema20'], f"{last_vals['ema20']:.2f}", '#1c8a27')
tag(ax_p, last_vals['close'], f"{last_vals['close']:.2f}", '#000000', bold=True)
tag(ax_m, last_vals['signal'], f"{last_vals['signal']:.3f}", '#c3184a')
tag(ax_m, last_vals['macd'], f"{last_vals['macd']:.3f}", '#000000')
tag(ax_m, last_vals['hist'], f"{last_vals['hist']:.3f}", '#7a8fc0')
tag(ax_r, last_vals['rsi'], f"{last_vals['rsi']:.2f}", '#6a76b0')
tag(ax_s, last_vals['d'], f"{last_vals['d']:.2f}", '#c3184a')
tag(ax_s, last_vals['k'], f"{last_vals['k']:.2f}", '#000000')

# ---------- RSI ----------
ax_r.axhline(70, color='#8a8a8a', lw=1.3, zorder=1)
ax_r.axhline(30, color='#8a8a8a', lw=1.3, zorder=1)
ax_r.axhline(50, color='#9a9a9a', lw=0.9, ls=(0, (6, 3, 1, 3)), zorder=1)
ax_r.fill_between(r_d, 70, r_v, where=r_v > 75, interpolate=False, color='#5fa596', lw=0, zorder=2)
ax_r.plot(r_d, r_v, color='#4b579c', lw=1.0, zorder=3)

# ---------- Stochastics ----------
ax_s.axhline(80, color='#8a8a8a', lw=1.3, zorder=1)
ax_s.axhline(20, color='#8a8a8a', lw=1.3, zorder=1)
ax_s.axhline(50, color='#9a9a9a', lw=0.9, ls=(0, (6, 3, 1, 3)), zorder=1)
ax_s.plot(k_d, d_v, color='#c3184a', lw=1.3, zorder=2)
ax_s.plot(k_d, k_v, color='#000000', lw=1.4, zorder=3)

# ---------- panel titles / legends ----------
TF = dict(fontsize=9, family=VERD, va='center', ha='left')


def chain(x, y, parts):
    t = fig.text(fx(x), fy(y), parts[0][0], color=parts[0][1], **TF)
    for s, c in parts[1:]:
        a = Annotation(s, xy=(1, 0.5), xycoords=t, va='center', ha='left', color=c,
                       fontsize=9, family=VERD, annotation_clip=False)
        fig.add_artist(a)
        t = a
    return t


def dash(x0, y, color, w=9, lw=2.2):
    fig.add_artist(plt.Line2D([fx(x0), fx(x0 + w)], [fy(y), fy(y)], color=color, lw=lw,
                              transform=fig.transFigure))


dash(13, 127, '#000')
chain(25, 127, [('MACD(12,26,9) -0.353', '#111'), (', -0.381', '#c3184a'), (', 0.028', '#4f9a86')])

fig.text(fx(12), fy(277), '\u2193\u2191', fontsize=7, family=VERD, va='center', ha='left', color='#333')
fig.text(fx(27), fy(277), 'Sugar - Spot (Weekly) 14.10', color='#111', **TF)
for y, col, s in [(291, '#1c8a27', 'EMA(20) 14.57'), (305, '#1b1fa8', 'MA(50) 15.37'), (318, '#e8241e', 'MA(200) 19.81')]:
    dash(13, y, col)
    fig.text(fx(25), fy(y), s, color=col, **TF)
for i, hgt in enumerate([4, 7, 9, 6]):
    fig.add_artist(Rectangle((fx(13 + i * 2.5), fy(335)), 1.6 / W, hgt / H, transform=fig.transFigure,
                             fc='#2f7a3e', ec='none'))
fig.text(fx(25), fy(331), 'Volume undef', color='#2f7a3e', **TF)

fig.add_artist(Polygon([[fx(12), fy(741)], [fx(15), fy(732)], [fx(18), fy(737)], [fx(21), fy(731)], [fx(24), fy(741)]],
                       closed=True, transform=fig.transFigure, fc='#6fb2a8', ec='#3a4a9a', lw=0.8))
fig.text(fx(27), fy(735), 'RSI(14) 44.51', color='#111', **TF)

chain(86, 879, [('%K(14,3) %D(3) 15.82', '#111'), (', ', '#111'), ('32.73', '#c3184a')])
fig.add_artist(Rectangle((fx(10), fy(889)), 86 / W, 19 / H, transform=fig.transFigure,
                         fc='#cfd1d4', ec='none', alpha=0.97, zorder=30))
fig.text(fx(13), fy(879), '27 Jun Y:90.99', fontsize=8.5, family=SANS, va='center', ha='left',
         color='#333', zorder=31)

# ---------- year labels ----------
for yb in (711, 1029):
    for yr in year_labels:
        xp = L + (yr - 1990) * (R - L + 0.0) / (XMAX - XMIN) - 3.5
        fig.text(fx(xp), fy(yb), f'{yr % 100:02d}', fontsize=9, family=SANS, ha='center', va='center',
                 color='#222')

fig.savefig('out.png', dpi=100, facecolor=BG)
